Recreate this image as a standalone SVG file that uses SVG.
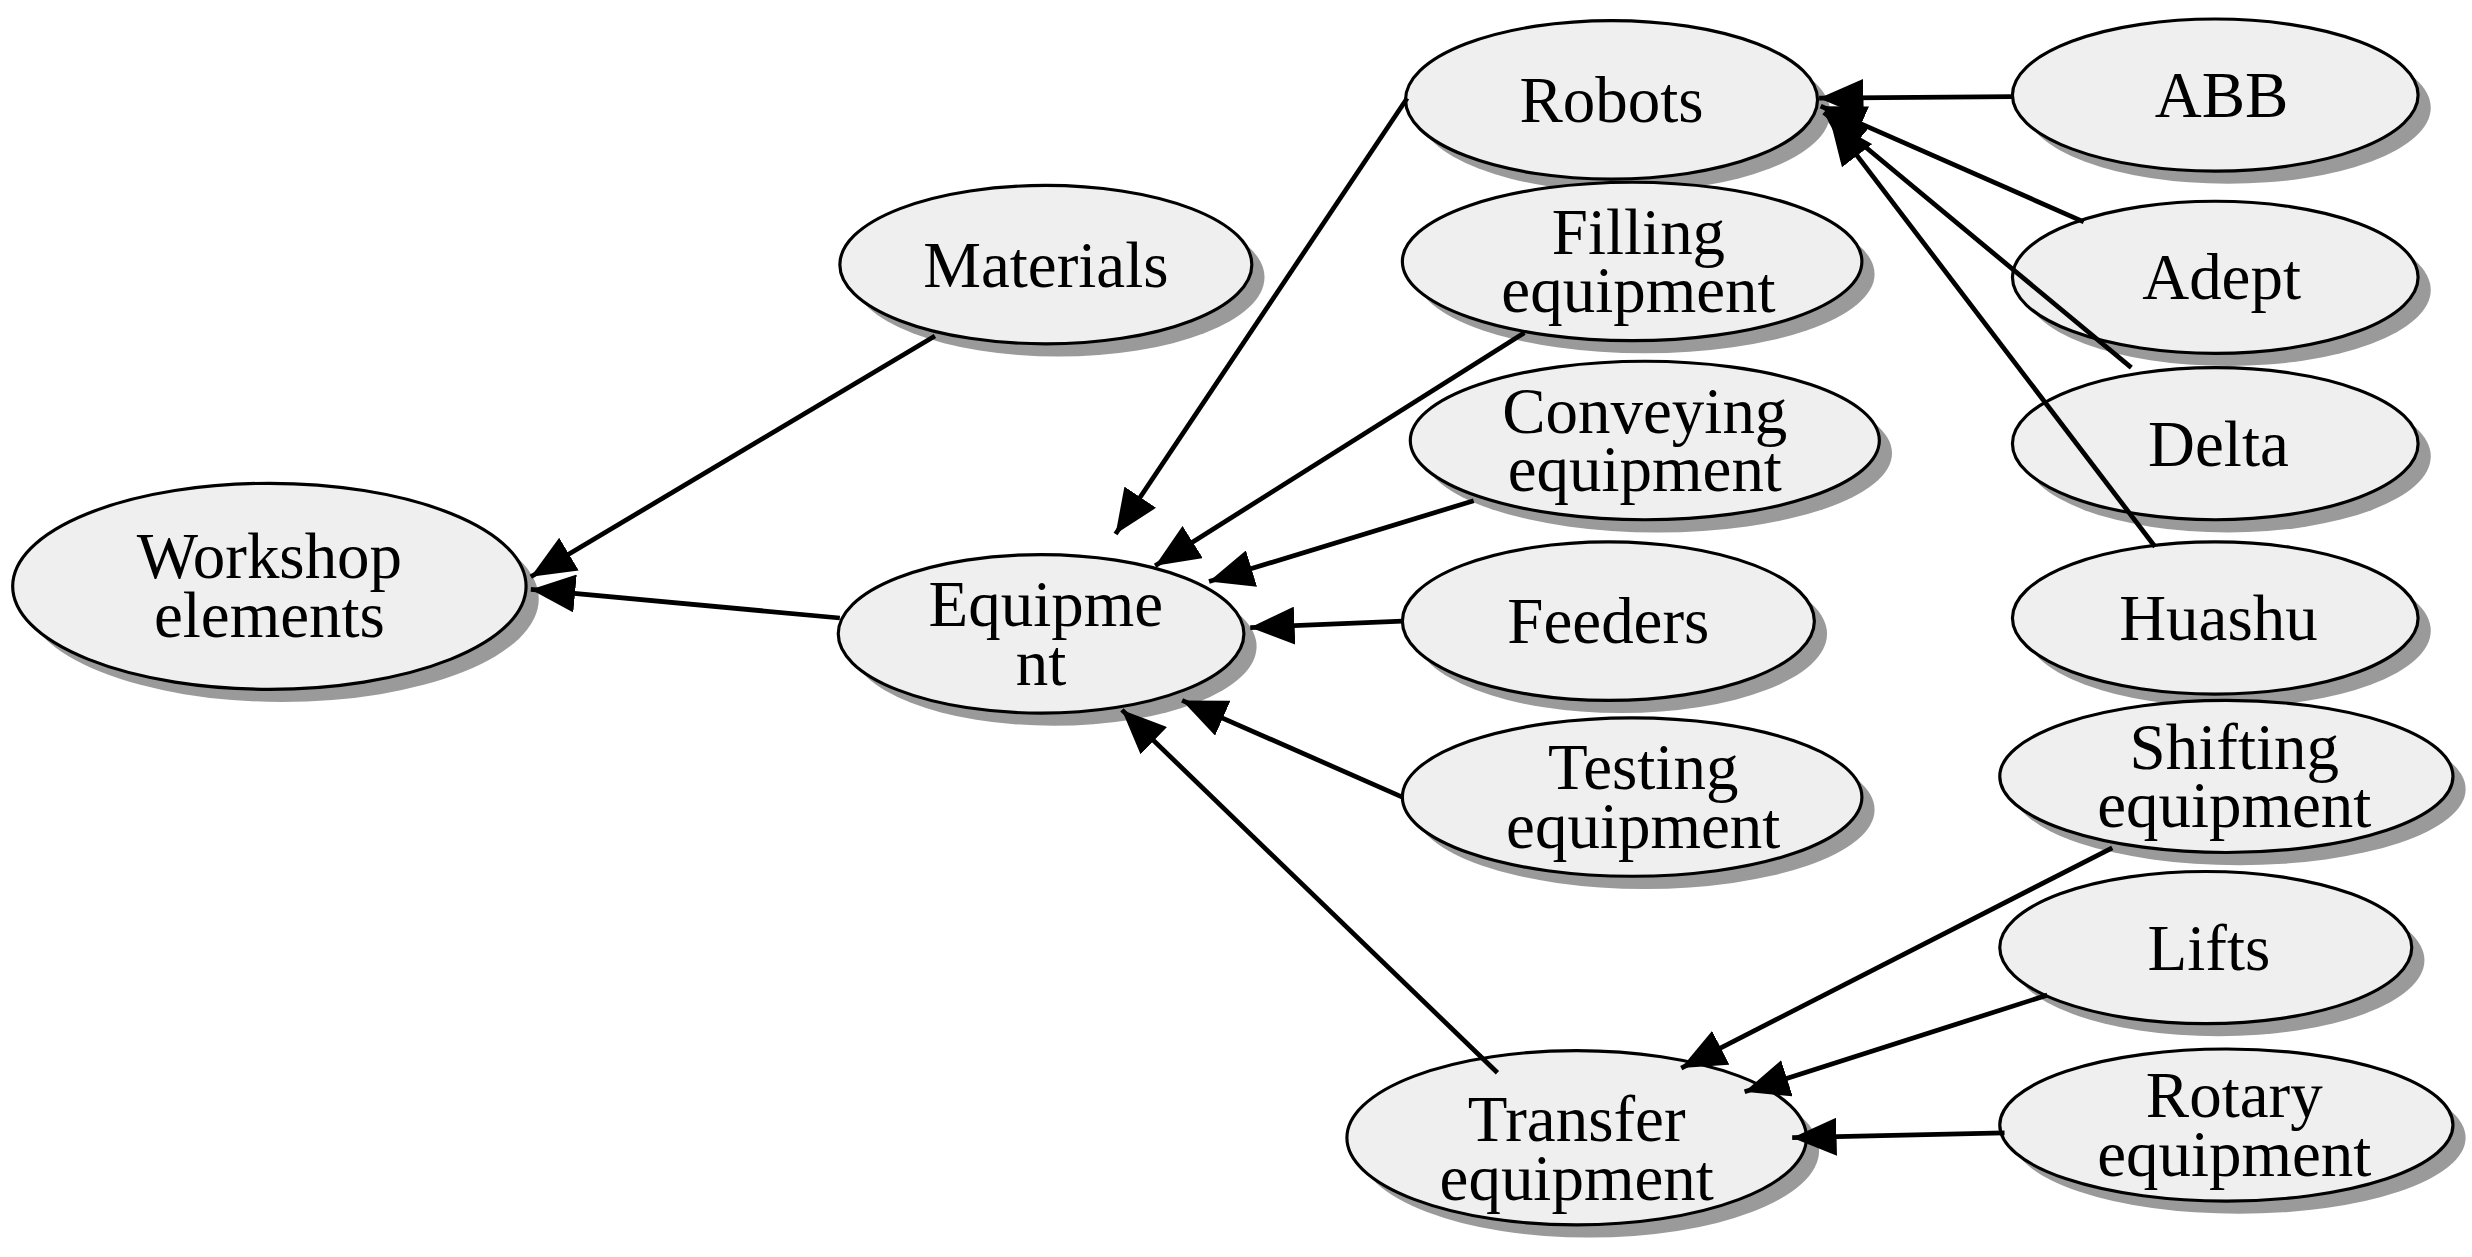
<svg xmlns="http://www.w3.org/2000/svg" width="2472" height="1257" viewBox="0 0 2472 1257">
<style>
.sh{fill:#9a9a9a}
.nd{fill:#efefef;stroke:#000;stroke-width:2}
text{font-family:"Liberation Serif","Times New Roman",serif;font-size:41px;fill:#000;text-anchor:middle}
.e{stroke:#000;stroke-width:3;fill:none;marker-end:url(#a)}
</style>
<defs>
<marker id="a" markerUnits="userSpaceOnUse" markerWidth="30" markerHeight="24" refX="28" refY="12" orient="auto"><path d="M0,0 L28,12 L0,24 Z" fill="#000"/></marker>
</defs>
<rect width="2472" height="1257" fill="#fff"/>
<g transform="scale(1.5846)">
<g id="workshop"><ellipse class="sh" cx="178" cy="378" rx="162" ry="65"/><ellipse class="nd" cx="170" cy="370" rx="162" ry="65"/><text x="170" y="365">Workshop</text><text x="170" y="402">elements</text></g>
<g id="materials"><ellipse class="sh" cx="668" cy="175" rx="130" ry="50"/><ellipse class="nd" cx="660" cy="167" rx="130" ry="50"/><text x="660" y="181">Materials</text></g>
<g id="equipment"><ellipse class="sh" cx="665" cy="408" rx="128" ry="50"/><ellipse class="nd" cx="657" cy="400" rx="128" ry="50"/><text x="660" y="395">Equipme</text><text x="657" y="432">nt</text></g>
<g id="robots"><ellipse class="sh" cx="1025" cy="71" rx="130" ry="50"/><ellipse class="nd" cx="1017" cy="63" rx="130" ry="50"/><text x="1017" y="77">Robots</text></g>
<g id="filling"><ellipse class="sh" cx="1038" cy="173" rx="145" ry="50"/><ellipse class="nd" cx="1030" cy="165" rx="145" ry="50"/><text x="1034" y="160">Filling</text><text x="1034" y="197">equipment</text></g>
<g id="conveying"><ellipse class="sh" cx="1046" cy="286" rx="148" ry="50"/><ellipse class="nd" cx="1038" cy="278" rx="148" ry="50"/><text x="1038" y="273">Conveying</text><text x="1038" y="310">equipment</text></g>
<g id="feeders"><ellipse class="sh" cx="1023" cy="400" rx="130" ry="50"/><ellipse class="nd" cx="1015" cy="392" rx="130" ry="50"/><text x="1015" y="406">Feeders</text></g>
<g id="testing"><ellipse class="sh" cx="1038" cy="511" rx="145" ry="50"/><ellipse class="nd" cx="1030" cy="503" rx="145" ry="50"/><text x="1037" y="498">Testing</text><text x="1037" y="535">equipment</text></g>
<g id="transfer"><ellipse class="sh" cx="1003" cy="726" rx="145" ry="55"/><ellipse class="nd" cx="995" cy="718" rx="145" ry="55"/><text x="995" y="720">Transfer</text><text x="995" y="757">equipment</text></g>
<g id="abb"><ellipse class="sh" cx="1406" cy="68" rx="128" ry="48"/><ellipse class="nd" cx="1398" cy="60" rx="128" ry="48"/><text x="1402" y="74">ABB</text></g>
<g id="adept"><ellipse class="sh" cx="1406" cy="183" rx="128" ry="48"/><ellipse class="nd" cx="1398" cy="175" rx="128" ry="48"/><text x="1402" y="189">Adept</text></g>
<g id="delta"><ellipse class="sh" cx="1406" cy="288" rx="128" ry="48"/><ellipse class="nd" cx="1398" cy="280" rx="128" ry="48"/><text x="1400" y="294">Delta</text></g>
<g id="huashu"><ellipse class="sh" cx="1406" cy="398" rx="128" ry="48"/><ellipse class="nd" cx="1398" cy="390" rx="128" ry="48"/><text x="1400" y="404">Huashu</text></g>
<g id="shifting"><ellipse class="sh" cx="1413" cy="498" rx="143" ry="48"/><ellipse class="nd" cx="1405" cy="490" rx="143" ry="48"/><text x="1410" y="485">Shifting</text><text x="1410" y="522">equipment</text></g>
<g id="lifts"><ellipse class="sh" cx="1400" cy="606" rx="130" ry="48"/><ellipse class="nd" cx="1392" cy="598" rx="130" ry="48"/><text x="1394" y="612">Lifts</text></g>
<g id="rotary"><ellipse class="sh" cx="1413" cy="718" rx="143" ry="48"/><ellipse class="nd" cx="1405" cy="710" rx="143" ry="48"/><text x="1410" y="705">Rotary</text><text x="1410" y="742">equipment</text></g>
<g id="edges">
<line class="e" x1="590" y1="212" x2="335" y2="364"/>
<line class="e" x1="530" y1="390" x2="335" y2="372"/>
<line class="e" x1="888" y1="62" x2="704" y2="337"/>
<line class="e" x1="962" y1="210" x2="729" y2="357"/>
<line class="e" x1="930" y1="316" x2="763" y2="367"/>
<line class="e" x1="885" y1="392" x2="789" y2="396"/>
<line class="e" x1="885" y1="503" x2="746" y2="442"/>
<line class="e" x1="945" y1="677" x2="708" y2="448"/>
<line class="e" x1="1270" y1="61" x2="1148" y2="62"/>
<line class="e" x1="1315" y1="140" x2="1149" y2="67"/>
<line class="e" x1="1345" y1="232" x2="1151" y2="71"/>
<line class="e" x1="1360" y1="345" x2="1155" y2="76"/>
<line class="e" x1="1333" y1="535" x2="1061" y2="674"/>
<line class="e" x1="1292" y1="628" x2="1101" y2="689"/>
<line class="e" x1="1265" y1="715" x2="1131" y2="718"/>
</g>
</g>
</svg>
